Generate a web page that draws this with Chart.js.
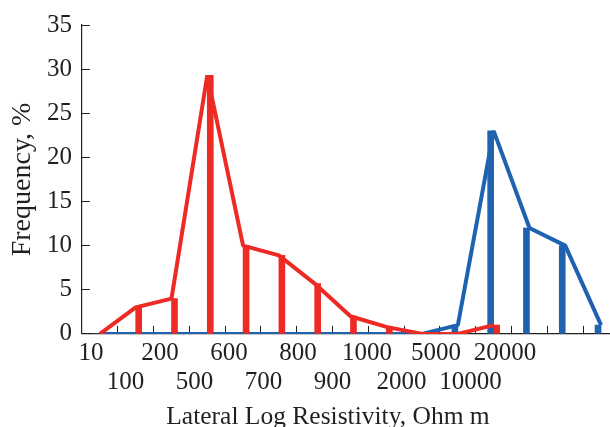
<!DOCTYPE html>
<html>
<head>
<meta charset="utf-8">
<script src="https://cdn.jsdelivr.net/npm/chart.js@4/dist/chart.umd.min.js"></script>
<style>
  html, body { margin: 0; padding: 0; background: #ffffff; }
  #wrap { width: 610px; height: 427px; position: relative; }
</style>
</head>
<body>
<div id="wrap"><canvas id="c"></canvas></div>
<script>
// ---- data ----
const tickLabels = ['10', '100', '200', '500', '600', '700', '800', '900', '1000', '2000', '5000', '10000', '20000'];
const redValues  = [0, 3, 4, 29.3, 10, 8.9, 5.7, 2, 0.8, 0, 0, 1, null, null, null];
const blueValues = [0, 0, 0, 0, 0, 0, 0, 0, 0, 0, 1, 23, 12, 10, 1];
const yTicks = [0, 5, 10, 15, 20, 25, 30, 35];
const xTitle = 'Lateral Log Resistivity, Ohm m';
const yTitle = 'Frequency, %';

const RED = '#ee2a24';
const BLUE = '#1f62b0';
const INK = '#231f20';
const SERIF = '"Liberation Serif", "Times New Roman", serif';

const toXY = arr => arr.map((v, i) => ({ x: i, y: v }));
const nBins = blueValues.length;

new Chart(document.getElementById('c'), {
  type: 'line',
  data: {
    datasets: [
      { type: 'line', data: toXY(redValues), borderColor: RED, borderWidth: 4, borderJoinStyle: 'bevel', pointRadius: 0, tension: 0, order: 0, xAxisID: 'x', yAxisID: 'y' },
      { type: 'bar', data: toXY(blueValues), backgroundColor: BLUE, borderWidth: 0, barThickness: 6, order: 1, xAxisID: 'x', yAxisID: 'y' },
      { type: 'bar', data: toXY(redValues), backgroundColor: RED, borderWidth: 0, barThickness: 6, order: 2, xAxisID: 'x', yAxisID: 'y' },
      { type: 'line', data: toXY(blueValues), borderColor: BLUE, borderWidth: 4, borderJoinStyle: 'bevel', pointRadius: 0, tension: 0, order: 3, xAxisID: 'x', yAxisID: 'y' }
    ]
  },
  options: {
    responsive: true,
    maintainAspectRatio: false,
    animation: false,
    layout: { padding: { left: 46, right: 0, top: 25, bottom: 0 } },
    plugins: {
      legend: { display: false },
      tooltip: { enabled: false },
      title: {
        display: true,
        position: 'bottom',
        text: xTitle,
        color: INK,
        font: { family: SERIF, size: 25.5, weight: 'normal', lineHeight: 1.2 },
        padding: { top: 1, bottom: -6 }
      }
    },
    scales: {
      x: {
        type: 'linear',
        position: 'bottom',
        min: -0.5,
        max: nBins - 0.75,
        offset: false,
        afterBuildTicks: s => { s.ticks = Array.from({ length: nBins - 1 }, (_, i) => ({ value: i + 0.5 })); },
        afterFit: s => { s.height = 0; },
        ticks: { display: false },
        grid: { display: true, drawOnChartArea: false, drawTicks: true, tickLength: -8, color: INK, lineWidth: 1, offset: false },
        border: { display: true, color: INK, width: 1.2 }
      },
      xl: {
        type: 'linear',
        position: 'bottom',
        min: -0.261,
        max: 15.043,
        offset: false,
        afterBuildTicks: s => { s.ticks = tickLabels.map((_, i) => ({ value: i })); },
        ticks: {
          autoSkip: false,
          maxRotation: 0,
          minRotation: 0,
          padding: 5,
          color: INK,
          font: { family: SERIF, size: 25, lineHeight: 1.15 },
          callback: (v, i) => (i % 2 === 1 ? ['', tickLabels[i]] : tickLabels[i])
        },
        grid: { display: false, drawTicks: false },
        border: { display: false }
      },
      y: {
        type: 'linear',
        position: 'left',
        min: 0,
        max: 35,
        afterBuildTicks: s => { s.ticks = yTicks.map(v => ({ value: v })); },
        afterFit: s => { s.width = 36; s.paddingTop = 0; s.paddingBottom = 0; },
        ticks: {
          padding: 18,
          color: INK,
          font: { family: SERIF, size: 25, lineHeight: 1.15 }
        },
        grid: { display: true, drawOnChartArea: false, drawTicks: true, tickLength: -8, color: INK, lineWidth: 1 },
        border: { display: true, color: INK, width: 1.2 },
        title: {
          display: true,
          text: yTitle,
          color: INK,
          font: { family: SERIF, size: 28, lineHeight: 1.2 },
          padding: { top: -40, bottom: 0 }
        }
      }
    }
  }
});
</script>
</body>
</html>
